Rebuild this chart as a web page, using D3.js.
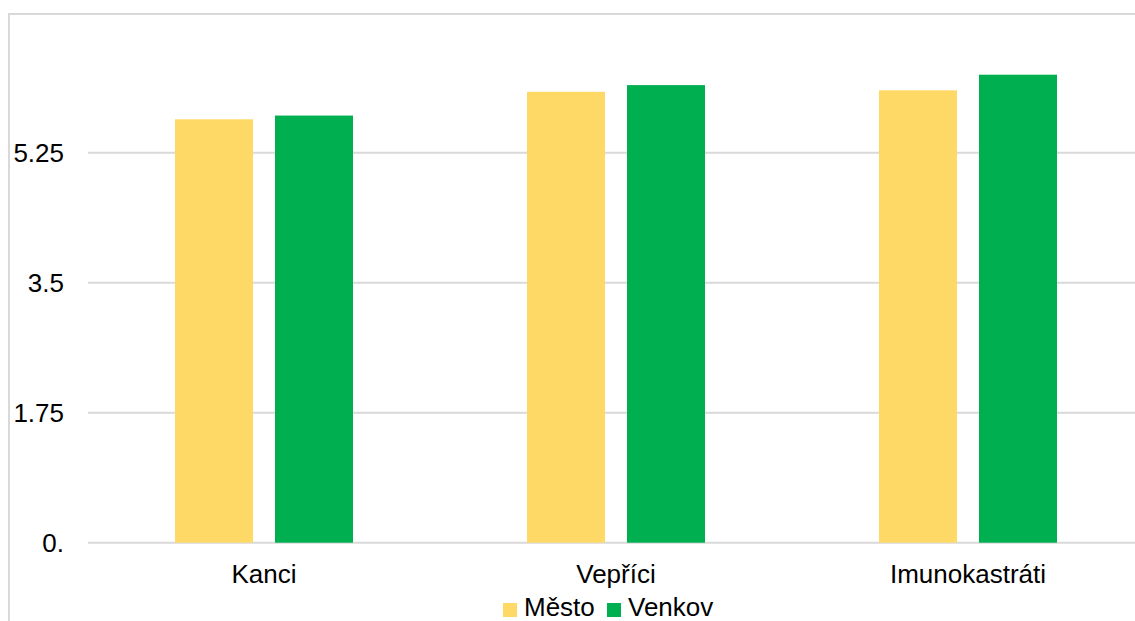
<!DOCTYPE html>
<html>
<head>
<meta charset="utf-8">
<script src="https://cdn.jsdelivr.net/npm/d3@7"></script>
<style>
  html, body { margin:0; padding:0; background:#fff; }
  svg { display:block; font-family:"Liberation Sans", Arial, sans-serif; }
</style>
</head>
<body>
<div id="chart"></div>
<script>
// data
const categories = ["Kanci", "Vepříci", "Imunokastráti"];
const series = ["Město", "Venkov"];
const mestoValues = [5.70, 6.07, 6.09];
const venkovValues = [5.75, 6.16, 6.30];
const yTicks = [0, 1.75, 3.5, 5.25];
const yTickLabels = ["0.", "1.75", "3.5", "5.25"];

const width = 1135, height = 621;
const colors = {"Město": "#FFD966", "Venkov": "#00B050"};
const grid = "#d9d9d9";

const rows = categories.map((c, i) => ({cat: c, "Město": mestoValues[i], "Venkov": venkovValues[i]}));

const svg = d3.select("#chart").append("svg")
  .attr("width", width)
  .attr("height", height);

// outer chart frame (runs off right/bottom edge)
svg.append("rect")
  .attr("x", 9).attr("y", 14)
  .attr("width", width + 20).attr("height", height + 20)
  .attr("fill", "none")
  .attr("stroke", grid)
  .attr("stroke-width", 2);

// scales
const x0 = d3.scaleBand().domain(categories).range([88, 1144]);
const x1 = d3.scaleBand().domain(series).range([0, x0.bandwidth()])
  .paddingInner(0.22).paddingOuter(0.87);
const y = d3.scaleLinear().domain([0, 7]).range([542.7, 22.7]);

// gridlines
svg.append("g")
  .selectAll("line")
  .data(yTicks)
  .join("line")
  .attr("x1", 88).attr("x2", width)
  .attr("y1", d => y(d)).attr("y2", d => y(d))
  .attr("stroke", grid)
  .attr("stroke-width", 2);

// y labels
svg.append("g")
  .selectAll("text")
  .data(yTicks)
  .join("text")
  .attr("x", 64)
  .attr("y", d => y(d))
  .attr("dy", "0.35em")
  .attr("text-anchor", "end")
  .style("font-size", "26px")
  .attr("fill", "#000")
  .text((d, i) => yTickLabels[i]);

// bars
const groups = svg.append("g")
  .selectAll("g")
  .data(rows)
  .join("g")
  .attr("transform", d => `translate(${x0(d.cat)},0)`);

groups.selectAll("rect")
  .data(d => series.map(s => ({key: s, value: d[s]})))
  .join("rect")
  .attr("x", d => x1(d.key))
  .attr("width", x1.bandwidth())
  .attr("y", d => y(d.value))
  .attr("height", d => y(0) - y(d.value))
  .attr("fill", d => colors[d.key]);

// category labels
svg.append("g")
  .selectAll("text")
  .data(categories)
  .join("text")
  .attr("x", d => x0(d) + x0.bandwidth() / 2)
  .attr("y", 583)
  .attr("text-anchor", "middle")
  .style("font-size", "26px")
  .attr("fill", "#000")
  .text(d => d);

// legend
const legend = svg.append("g").attr("transform", "translate(503,0)");
const legendX = [0, 104];
series.forEach((s, i) => {
  const item = legend.append("g").attr("transform", `translate(${legendX[i]},0)`);
  item.append("rect")
    .attr("x", 0).attr("y", 603)
    .attr("width", 14).attr("height", 14)
    .attr("fill", colors[s]);
  item.append("text")
    .attr("x", 21).attr("y", 616)
    .style("font-size", "26px")
    .attr("fill", "#000")
    .text(s);
});
</script>
</body>
</html>
